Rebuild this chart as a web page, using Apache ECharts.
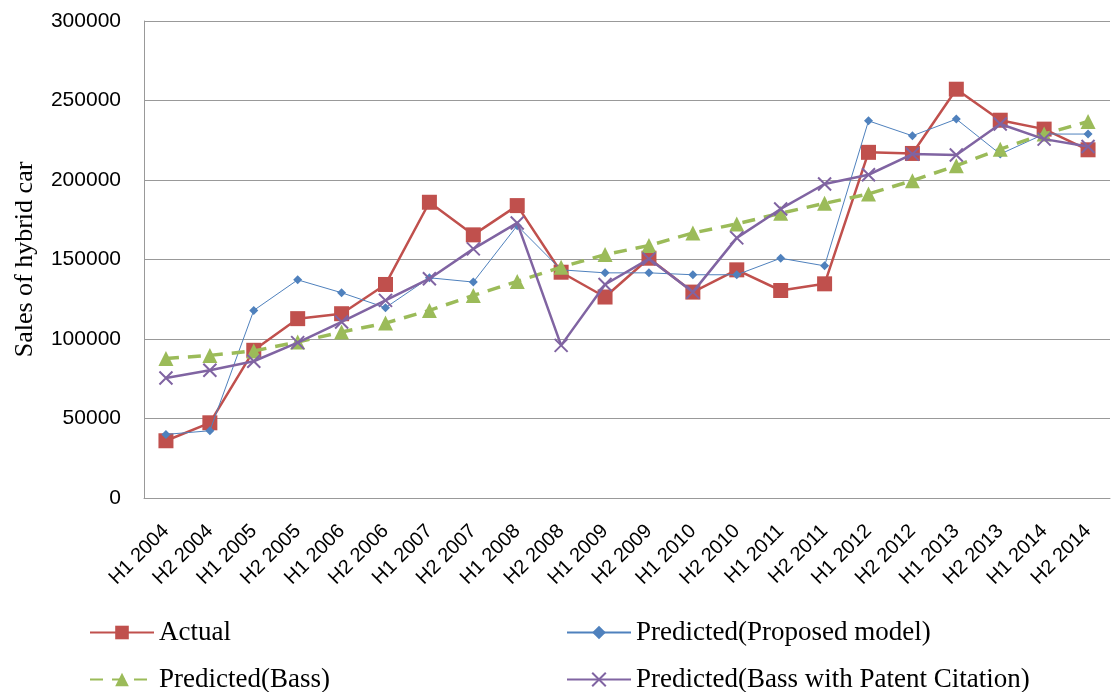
<!DOCTYPE html>
<html>
<head>
<meta charset="utf-8">
<script src="https://cdn.jsdelivr.net/npm/echarts@6/dist/echarts.min.js"></script>
<style>
html,body{margin:0;padding:0;background:#fff;}
#chart{width:1119px;height:692px;}
</style>
</head>
<body>
<div id="chart"></div>
<script>
const categories = ['H1 2004','H2 2004','H1 2005','H2 2005','H1 2006','H2 2006','H1 2007','H2 2007','H1 2008','H2 2008','H1 2009','H2 2009','H1 2010','H2 2010','H1 2011','H2 2011','H1 2012','H2 2012','H1 2013','H2 2013','H1 2014','H2 2014'];
const actual = [36000,47300,92900,112800,115900,134300,186000,165500,183900,142000,126400,150800,129500,143500,130500,134700,217400,216700,257100,237600,232000,219000];
const proposed = [40000,42300,118000,137200,129100,119700,138500,135800,171300,143500,141600,141600,140400,140400,150800,146000,237200,227800,238300,216300,228900,228900];
const bass = [87700,89700,92500,98100,104400,110000,118000,127400,136200,145200,153100,158800,166700,172400,179100,185300,191200,199600,209000,219400,228900,236800];
const bassPatent = [75500,80300,86000,97700,110700,124300,137900,156700,173000,96000,134300,150400,129500,163600,181800,197500,203300,216300,215700,235200,225700,221100];
const yTicks = {min:0, max:300000, interval:50000};

const names = ['Actual','Predicted(Proposed model)','Predicted(Bass)','Predicted(Bass with Patent Citation)'];
const xPath = 'path://M0,0 L10,10 M10,0 L0,10';

const legendBase = {
  orient:'horizontal', padding:0, itemWidth:64, itemHeight:17, itemGap:0,
  textStyle:{fontFamily:'Liberation Serif', fontSize:27, color:'#000'}
};

const chart = echarts.init(document.getElementById('chart'), null, {renderer:'canvas'});
chart.setOption({
  animation:false,
  backgroundColor:'#fff',
  grid:{left:144, right:9, top:21, bottom:194, containLabel:false},
  legend:[
    Object.assign({}, legendBase, {data:[names[0]], left:89, top:619}),
    Object.assign({}, legendBase, {data:[names[1]], left:566, top:619}),
    Object.assign({}, legendBase, {data:[names[2]], left:89, top:666}),
    Object.assign({}, legendBase, {data:[names[3]], left:566, top:666})
  ],
  xAxis:{
    type:'category', data:categories, boundaryGap:true,
    axisLine:{show:true, lineStyle:{color:'#999999', width:1}},
    axisTick:{show:false},
    splitLine:{show:false},
    axisLabel:{interval:0, rotate:45, margin:30, fontFamily:'Liberation Sans', fontSize:20, color:'#000'}
  },
  yAxis:{
    type:'value', min:yTicks.min, max:yTicks.max, interval:yTicks.interval,
    name:'Sales of hybrid car', nameLocation:'middle', nameGap:106, nameRotate:90,
    nameTextStyle:{fontFamily:'Liberation Serif', fontSize:26, color:'#000'},
    axisLine:{show:true, lineStyle:{color:'#999999', width:1}},
    axisTick:{show:false},
    splitLine:{show:true, lineStyle:{color:'#999999', width:1}},
    axisLabel:{margin:23, fontFamily:'Liberation Sans', fontSize:21, color:'#000', formatter:function(v){return String(v);}}
  },
  series:[
    {name:names[0], type:'line', data:actual, symbol:'rect', symbolSize:15,
     lineStyle:{color:'#C0504D', width:2.5}, itemStyle:{color:'#C0504D'}, z:2},
    {name:names[1], type:'line', data:proposed, symbol:'diamond', symbolSize:9,
     lineStyle:{color:'#4F81BD', width:1}, itemStyle:{color:'#4F81BD'}, z:3},
    {name:names[2], type:'line', data:bass, symbol:'triangle', symbolSize:15,
     lineStyle:{color:'#9BBB59', width:3.5, type:[13,9]}, itemStyle:{color:'#9BBB59'}, z:4},
    {name:names[3], type:'line', data:bassPatent, symbol:xPath, symbolSize:13,
     lineStyle:{color:'#8064A2', width:2.5}, itemStyle:{color:'#8064A2', borderColor:'#8064A2', borderWidth:2}, z:5}
  ]
});
</script>
</body>
</html>
